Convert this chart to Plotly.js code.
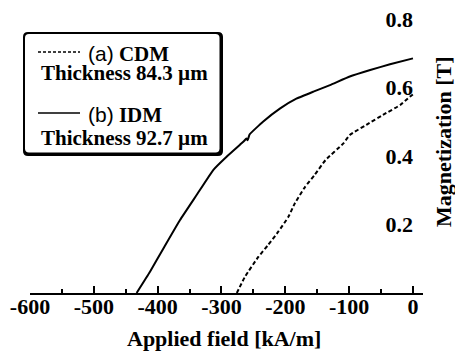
<!DOCTYPE html>
<html>
<head>
<meta charset="utf-8">
<script src="https://cdn.plot.ly/plotly-3.0.1.min.js"></script>
<style>html,body{margin:0;padding:0;background:#fff;}#chart{width:455px;height:354px;}</style>
</head>
<body>
<div id="chart"></div>
<script>
// ---- data ----
var idmField = [-433, -412, -391, -365, -339, -313, -292, -271, -265, -261, -259, -256, -235, -208, -182, -156, -130, -99, -67, -36, 0];
var idmMag   = [0, 0.062, 0.130, 0.213, 0.286, 0.359, 0.398, 0.433, 0.443, 0.451, 0.446, 0.463, 0.500, 0.539, 0.568, 0.588, 0.607, 0.632, 0.651, 0.668, 0.685];

var cdmField = [-276, -263, -242, -227, -211, -195, -185, -169, -154, -137, -109, -99, -73, -47, -20, -5, 0];
var cdmMag   = [0, 0.048, 0.106, 0.140, 0.179, 0.223, 0.262, 0.310, 0.345, 0.388, 0.437, 0.461, 0.491, 0.520, 0.549, 0.573, 0.580];

var xTickVals = [-600, -500, -400, -300, -200, -100, 0];
var xTickText = ['-600', '-500', '-400', '-300', '-200', '-100', '0'];
var xMinorVals = [-550, -450, -350, -250, -150, -50];
var yTickVals = [0.2, 0.4, 0.6, 0.8];
var yTickText = ['0.2', '0.4', '0.6', '0.8'];
var yMinorVals = [0.1, 0.3, 0.5, 0.7];

var SANS = 'Liberation Sans, Arial, sans-serif';
var SERIF = 'Liberation Serif, Times New Roman, Times, serif';

var legendA1 = '<span style="font-family:Liberation Sans, Arial, sans-serif;font-weight:400">(a)</span> CDM';
var legendA2 = 'Thickness 84.3 µm';
var legendB1 = '<span style="font-family:Liberation Sans, Arial, sans-serif;font-weight:400">(b)</span> IDM';
var legendB2 = 'Thickness 92.7 µm';
var xTitle = 'Applied field [kA/m]';
var yTitle = 'Magnetization [T]';

// ---- layout geometry ----
var FIG_W = 455, FIG_H = 354;
var L = 30, T = 19, R = 32, B = 61;
var W = FIG_W - L - R, H = FIG_H - T - B;
function px(x) { return (x - L) / W; }
function py(y) { return (T + H - y) / H; }
var X_MIN = -600, X_MAX = 15.7;
var yAxisPos = (0 - X_MIN) / (X_MAX - X_MIN);

function roundRect(x0, y0, x1, y1, r) {
  function P(x, y) { return px(x).toFixed(5) + ',' + py(y).toFixed(5); }
  return 'M' + P(x0 + r, y0) + ' L' + P(x1 - r, y0) + ' Q' + P(x1, y0) + ' ' + P(x1, y0 + r) +
    ' L' + P(x1, y1 - r) + ' Q' + P(x1, y1) + ' ' + P(x1 - r, y1) +
    ' L' + P(x0 + r, y1) + ' Q' + P(x0, y1) + ' ' + P(x0, y1 - r) +
    ' L' + P(x0, y0 + r) + ' Q' + P(x0, y0) + ' ' + P(x0 + r, y0) + ' Z';
}

var traces = [
  { x: cdmField, y: cdmMag, type: 'scatter', mode: 'lines', name: '(a) CDM',
    line: { color: '#000', width: 2, dash: '4px,2.5px', shape: 'spline', smoothing: 0.5 }, hoverinfo: 'skip' },
  { x: idmField, y: idmMag, type: 'scatter', mode: 'lines', name: '(b) IDM',
    line: { color: '#000', width: 2, shape: 'spline', smoothing: 0.3 }, hoverinfo: 'skip' }
];

var tickFont = { family: SERIF, size: 22, weight: 700, color: '#000' };
var legFont = { family: SERIF, size: 21, weight: 700, color: '#000' };

var layout = {
  width: FIG_W, height: FIG_H,
  margin: { l: L, r: R, t: T, b: B, pad: 0 },
  paper_bgcolor: '#fff', plot_bgcolor: '#fff',
  showlegend: false,
  font: { family: SERIF, color: '#000' },
  xaxis: {
    range: [X_MIN, X_MAX], domain: [0, 1], showgrid: false, zeroline: false,
    showline: true, linecolor: '#000', linewidth: 2,
    tickmode: 'array', tickvals: xTickVals, ticktext: xTickText,
    ticks: 'inside', ticklen: 7, tickwidth: 2, tickcolor: '#000',
    ticklabelstandoff: -7,
    minor: { tickmode: 'array', tickvals: xMinorVals, ticks: 'inside', ticklen: 4, tickwidth: 2, tickcolor: '#000', showgrid: false },
    tickfont: tickFont,
    automargin: false, fixedrange: true
  },
  // tick labels (to the left of the vertical axis)
  yaxis: {
    range: [0, 0.8], side: 'left', anchor: 'free', position: yAxisPos,
    showgrid: false, zeroline: false, showline: false,
    tickmode: 'array', tickvals: yTickVals, ticktext: yTickText,
    ticks: '', ticklabelstandoff: 0,
    tickfont: tickFont,
    automargin: false, fixedrange: true
  },
  // axis line and ticks (pointing right)
  yaxis2: {
    range: [0, 0.8], overlaying: 'y', side: 'right', anchor: 'free', position: yAxisPos,
    showgrid: false, zeroline: false, showline: true, linecolor: '#000', linewidth: 2,
    tickmode: 'array', tickvals: yTickVals, showticklabels: false,
    ticks: 'outside', ticklen: 6, tickwidth: 2, tickcolor: '#000',
    minor: { tickmode: 'array', tickvals: yMinorVals, ticks: 'outside', ticklen: 6, tickwidth: 2, tickcolor: '#000', showgrid: false },
    automargin: false, fixedrange: true
  },
  shapes: [
    { type: 'path', xref: 'paper', yref: 'paper', path: roundRect(23, 32, 223, 156, 5), fillcolor: '#000', line: { width: 0 } },
    { type: 'path', xref: 'paper', yref: 'paper', path: roundRect(25, 34, 219.5, 152.5, 4), fillcolor: '#fff', line: { width: 0 } },
    { type: 'line', xref: 'paper', yref: 'paper', x0: px(38), x1: px(80), y0: py(52), y1: py(52), line: { color: '#000', width: 1.5, dash: '3px,2px' } },
    { type: 'line', xref: 'paper', yref: 'paper', x0: px(38), x1: px(80), y0: py(113), y1: py(113), line: { color: '#000', width: 1.5 } }
  ],
  annotations: [
    { text: legendA1, xref: 'paper', yref: 'paper', x: px(86), y: py(54), xanchor: 'left', yanchor: 'middle', showarrow: false, font: legFont },
    { text: legendA2, xref: 'paper', yref: 'paper', x: px(39), y: py(73), xanchor: 'left', yanchor: 'middle', showarrow: false, font: legFont },
    { text: legendB1, xref: 'paper', yref: 'paper', x: px(86), y: py(115), xanchor: 'left', yanchor: 'middle', showarrow: false, font: legFont },
    { text: legendB2, xref: 'paper', yref: 'paper', x: px(39), y: py(138), xanchor: 'left', yanchor: 'middle', showarrow: false, font: legFont },
    { text: xTitle, xref: 'paper', yref: 'paper', x: px(224), y: py(338), xanchor: 'center', yanchor: 'middle', showarrow: false,
      font: { family: SERIF, size: 22, weight: 700, color: '#000' } },
    { text: yTitle, xref: 'paper', yref: 'paper', x: px(443), y: py(142), xanchor: 'center', yanchor: 'middle', textangle: -90, showarrow: false,
      font: { family: SERIF, size: 22, weight: 700, color: '#000' } }
  ]
};

Plotly.newPlot('chart', traces, layout, { displayModeBar: false, staticPlot: true });
</script>
</body>
</html>
